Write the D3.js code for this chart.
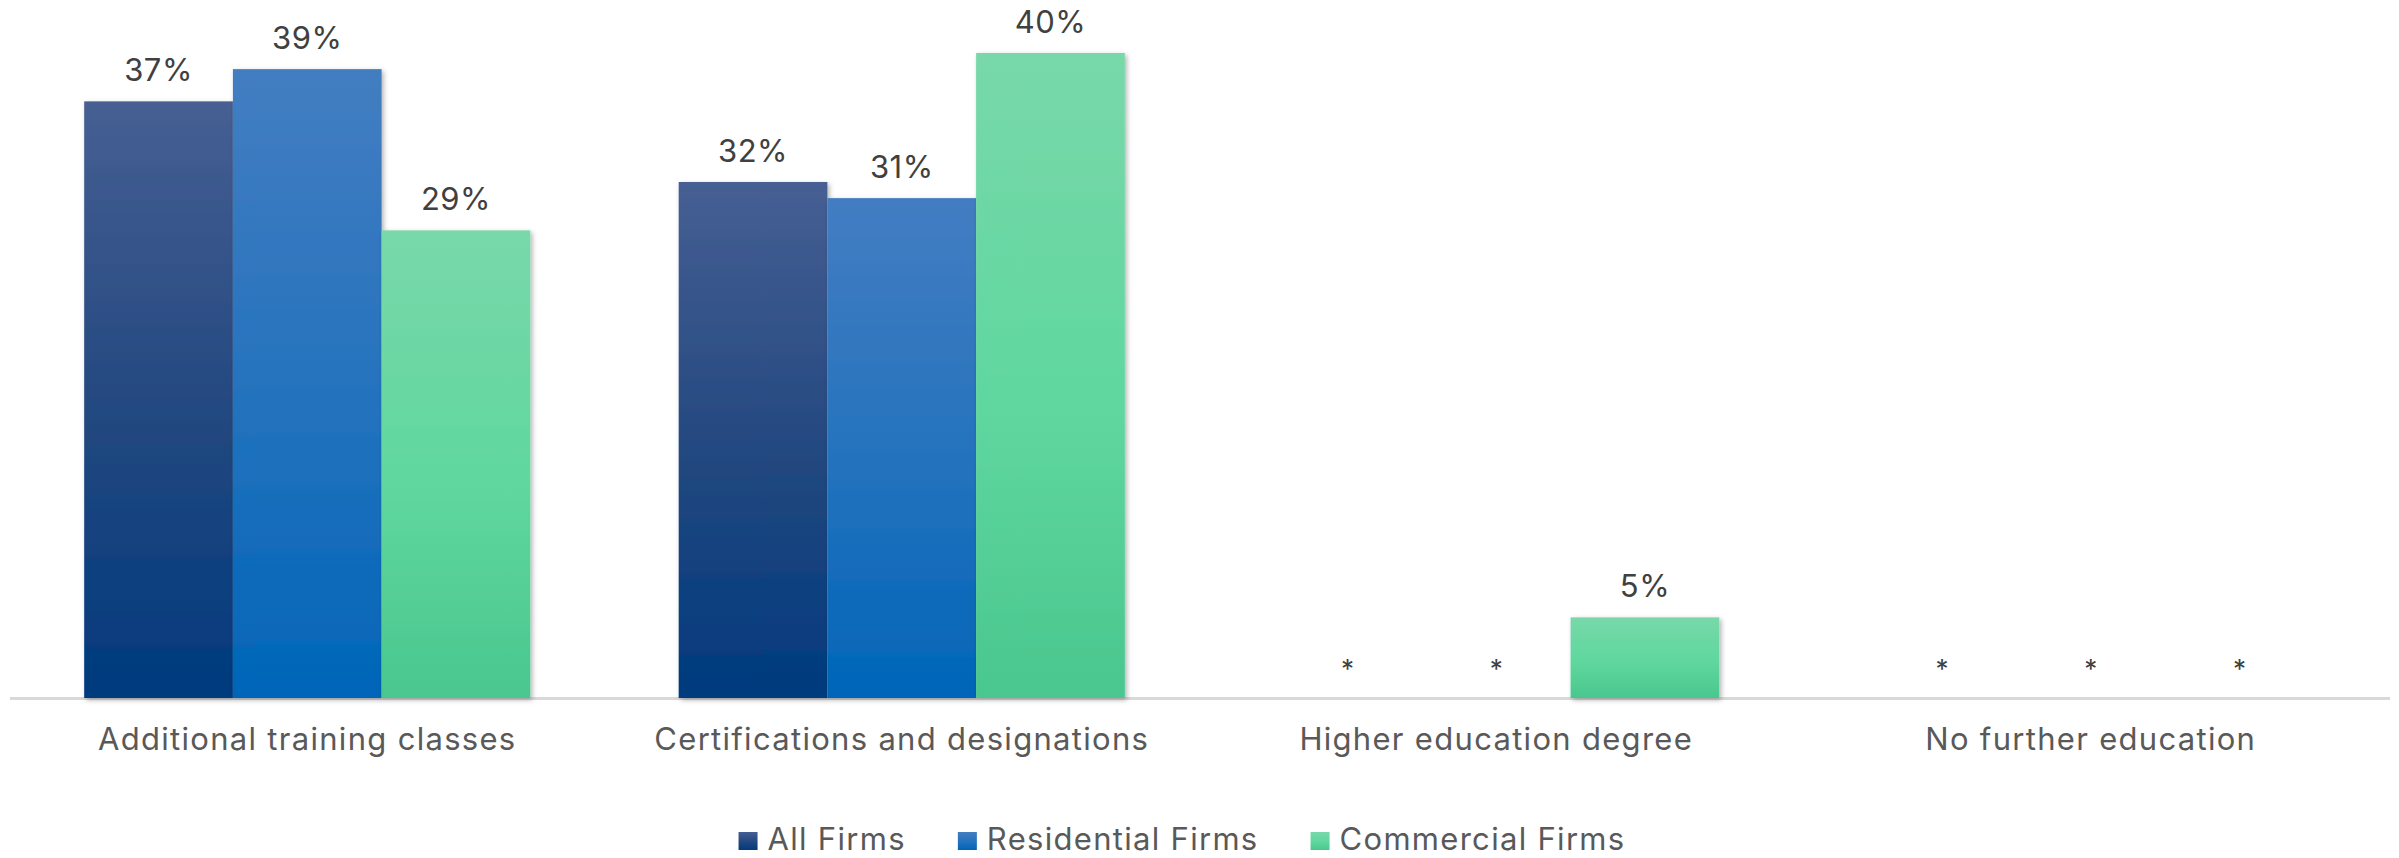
<!DOCTYPE html>
<html>
<head>
<meta charset="utf-8">
<script src="https://cdn.jsdelivr.net/npm/d3@7"></script>
<style>
  html, body { margin: 0; padding: 0; background: #ffffff; }
  svg { display: block; }
  text { font-family: Inter, "Noto Sans", sans-serif; }
</style>
</head>
<body>
<svg id="chart" width="2399" height="858"></svg>
<script>
// ---- data ----
const categories = ["Additional training classes", "Certifications and designations", "Higher education degree", "No further education"];
const seriesNames = ["All Firms", "Residential Firms", "Commercial Firms"];
const allFirms = [0.37, 0.32, null, null];
const residentialFirms = [0.39, 0.31, null, null];
const commercialFirms = [0.29, 0.40, 0.05, null];
const yDomain = [0, 0.40];

// ---- layout ----
const W = 2399, H = 858;
const left = 10, right = 2388, axisY = 698, topY = 53;
const fontSize = 31;
const spacing = 1.3;

const seriesValues = [allFirms, residentialFirms, commercialFirms];
const grads = [
  ["#465f93", "#21477f", "#003a7e"],
  ["#437dc1", "#2272bd", "#0065b8"],
  ["#78d8a9", "#5fd79e", "#4ac78e"]
];

const svg = d3.select("#chart");
const defs = svg.append("defs");
grads.forEach((g, i) => {
  const lg = defs.append("linearGradient").attr("id", "g" + i)
    .attr("x1", 0).attr("y1", 0).attr("x2", 0).attr("y2", 1);
  lg.append("stop").attr("offset", "0%").attr("stop-color", g[0]);
  lg.append("stop").attr("offset", "55%").attr("stop-color", g[1]);
  lg.append("stop").attr("offset", "100%").attr("stop-color", g[2]);
});
const f = defs.append("filter").attr("id", "shadow")
  .attr("x", "-10%").attr("y", "-10%").attr("width", "130%").attr("height", "130%");
f.append("feDropShadow").attr("dx", 2).attr("dy", 2).attr("stdDeviation", 2.5)
  .attr("flood-color", "#000").attr("flood-opacity", 0.3);

const x0 = d3.scaleBand().domain(categories).range([left, right])
  .paddingInner(0.2496).paddingOuter(0.1248);
const x1 = d3.scaleBand().domain(seriesNames).range([0, x0.bandwidth()]).padding(0);
const y = d3.scaleLinear().domain(yDomain).range([axisY, topY]);

const rows = [];
categories.forEach((c, ci) => {
  seriesNames.forEach((s, si) => {
    rows.push({ cat: c, series: s, si: si, value: seriesValues[si][ci] });
  });
});

// axis line
svg.append("line")
  .attr("x1", left).attr("x2", right + 2)
  .attr("y1", axisY + 0.5).attr("y2", axisY + 0.5)
  .attr("stroke", "#d9d9d9").attr("stroke-width", 3);

// bars
svg.append("g").selectAll("rect")
  .data(rows.filter(d => d.value != null))
  .join("rect")
  .attr("x", d => x0(d.cat) + x1(d.series))
  .attr("width", x1.bandwidth())
  .attr("y", d => y(d.value))
  .attr("height", d => y(0) - y(d.value))
  .attr("fill", d => `url(#g${d.si})`)
  .attr("filter", "url(#shadow)");

// value labels
svg.append("g").selectAll("text")
  .data(rows)
  .join("text")
  .attr("x", d => x0(d.cat) + x1(d.series) + x1.bandwidth() / 2)
  .attr("y", d => y(d.value == null ? 0 : d.value) - 20)
  .attr("text-anchor", "middle")
  .attr("font-size", d => d.value == null ? 26 : fontSize)
  .attr("letter-spacing", d => d.value == null ? 0 : 0.5)
  .attr("fill", "#404040")
  .text(d => d.value == null ? "*" : d3.format(".0%")(d.value));

// category axis labels
const xAxis = d3.axisBottom(x0).tickSize(0).tickPadding(0);
const gx = svg.append("g").attr("transform", `translate(0,${axisY})`).call(xAxis);
gx.select(".domain").remove();
gx.selectAll("text")
  .attr("dy", null)
  .attr("y", 52)
  .attr("font-size", fontSize)
  .attr("letter-spacing", spacing)
  .attr("font-family", "Inter, 'Noto Sans', sans-serif")
  .attr("fill", "#595959");

// legend
const legend = svg.append("g");
const items = legend.selectAll("g").data(seriesNames).join("g");
items.append("rect")
  .attr("width", 19).attr("height", 18)
  .attr("y", -18)
  .attr("fill", (d, i) => `url(#g${i})`);
items.append("text")
  .attr("x", 29).attr("y", 0)
  .attr("font-size", fontSize)
  .attr("letter-spacing", spacing)
  .attr("fill", "#595959")
  .text(d => d);
let xpos = 0;
items.each(function () {
  const w = this.getBBox().width;
  d3.select(this).attr("data-w", w);
});
items.attr("transform", function () {
  const w = +d3.select(this).attr("data-w");
  const t = `translate(${xpos},850)`;
  xpos += w + 52;
  return t;
});
const totalW = xpos - 52;
legend.attr("transform", `translate(${1182 - totalW / 2},0)`);
</script>
</body>
</html>
